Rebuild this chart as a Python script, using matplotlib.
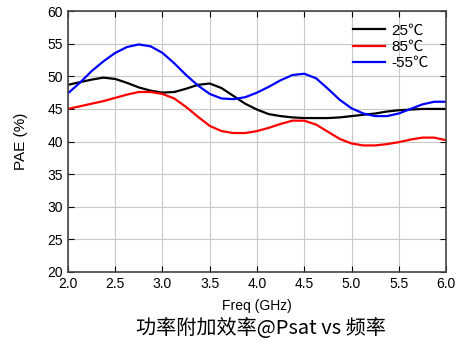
import matplotlib.pyplot as plt
import numpy as np

# PAE vs frequency at Psat, three temperatures
freq = np.arange(2.0, 6.0001, 0.125)

pae_25 = [48.7, 49.1, 49.5, 49.8, 49.6, 49.0, 48.3, 47.8, 47.5, 47.6, 48.1, 48.7,
          48.9, 48.2, 47.0, 45.8, 44.9, 44.2, 43.9, 43.7, 43.6, 43.6, 43.6, 43.7,
          43.9, 44.1, 44.3, 44.6, 44.8, 44.9, 45.0, 45.0, 45.0]
pae_85 = [45.0, 45.4, 45.8, 46.2, 46.7, 47.2, 47.6, 47.6, 47.3, 46.6, 45.3, 43.8,
          42.4, 41.6, 41.3, 41.3, 41.6, 42.1, 42.7, 43.2, 43.2, 42.6, 41.5, 40.4,
          39.7, 39.4, 39.4, 39.6, 39.9, 40.3, 40.6, 40.6, 40.2]
pae_m55 = [47.4, 49.0, 50.8, 52.3, 53.6, 54.5, 54.9, 54.6, 53.6, 52.0, 50.2, 48.6,
           47.3, 46.6, 46.5, 46.8, 47.5, 48.4, 49.4, 50.2, 50.4, 49.7, 48.1, 46.4,
           45.1, 44.3, 43.9, 43.9, 44.3, 45.0, 45.7, 46.1, 46.1]

labels = ['25℃', '85℃', '-55℃']
colors = ['black', 'red', 'blue']

plt.rcParams['font.family'] = ['Liberation Sans', 'Noto Sans CJK SC', 'DejaVu Sans']

fig = plt.figure(figsize=(4.72, 3.49), dpi=100)
ax = fig.add_axes([0.144, 0.221, 0.801, 0.747])

for y, lab, c in zip([pae_25, pae_85, pae_m55], labels, colors):
    ax.plot(freq, y, color=c, lw=1.6, label=lab)

ax.set_xlim(2.0, 6.0)
ax.set_ylim(20, 60)
ax.set_xticks(np.arange(2.0, 6.01, 0.5))
ax.set_xticklabels([f'{v:.1f}' for v in np.arange(2.0, 6.01, 0.5)])
ax.set_yticks(range(20, 61, 5))
ax.grid(True, color='#c8c8c8', lw=0.8)
ax.tick_params(direction='in', top=True, right=True, length=4, labelsize=10)
for s in ax.spines.values():
    s.set_color('#444444')
    s.set_linewidth(1.2)

ax.set_xlabel('Freq (GHz)', fontsize=10, labelpad=6)
ax.set_ylabel('PAE (%)', fontsize=11, labelpad=14)

leg = ax.legend(loc='upper right', frameon=False, fontsize=11, handlelength=2.1,
                handletextpad=0.4, labelspacing=0.15, bbox_to_anchor=(0.99, 1.005))

fig.text(0.553, 0.058, '功率附加效率@Psat vs 频率', ha='center', va='center',
         fontsize=14.5, family=['Noto Sans CJK SC', 'DejaVu Sans'])

plt.savefig('out.png', dpi=100)
